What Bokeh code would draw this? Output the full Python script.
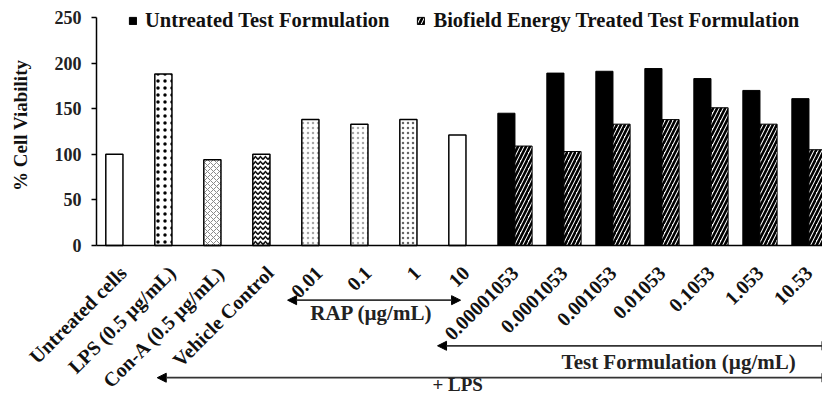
import math
from bokeh.plotting import figure
from bokeh.models import (ColumnDataSource, Range1d, FixedTicker, Legend, LegendItem,
                          Arrow, NormalHead, Label)
from bokeh.embed import file_html
from bokeh.resources import INLINE

# ---------------- data ----------------
categories = ["Untreated cells", "LPS (0.5 µg/mL)", "Con-A (0.5 µg/mL)", "Vehicle Control",
              "0.01", "0.1", "1", "10",
              "0.00001053", "0.0001053", "0.001053", "0.01053", "0.1053", "1.053", "10.53"]
control_values = [100, 188, 94, 100, 138, 133, 138, 121]
untreated_tf = [145, 189, 191, 194, 183, 170, 161]
treated_tf = [109, 103, 133, 138, 151, 133, 105]
y_ticks = [0, 50, 100, 150, 200, 250]
y_title = "% Cell Viability"
legend_labels = ["Untreated Test Formulation", "Biofield Energy Treated Test Formulation"]
group_labels = ["RAP (µg/mL)", "Test Formulation (µg/mL)", "+ LPS"]

FONT = "Liberation Serif"
n_ctrl = len(control_values)
ctrl_x = list(range(n_ctrl))
tf_x = list(range(n_ctrl, len(categories)))

BW = 0.35
OFF = 0.175
X0 = -0.54          # where the y axis sits (data x)
Y_MAX = y_ticks[-1]

# per-bar styles of the control bars
ctrl_patterns = [" ", ".", "x", "v", ".", ".", ".", " "]
ctrl_hcolors = ["black", "black", "#8a8a8a", "#111111", "#a8a8a8", "#a8a8a8", "#666666", "black"]
ctrl_hscale = [6, 7, 6, 5, 5, 5, 5, 6]
ctrl_hweight = [1, 3, 1, 1.6, 1, 1, 1.2, 1]

ctrl_src = ColumnDataSource(dict(x=[v - OFF for v in ctrl_x], top=control_values,
                                 hp=ctrl_patterns, hc=ctrl_hcolors, hs=ctrl_hscale, hw=ctrl_hweight))
un_src = ColumnDataSource(dict(x=[v - OFF for v in tf_x], top=untreated_tf))
tr_src = ColumnDataSource(dict(x=[v + OFF for v in tf_x], top=treated_tf))

p = figure(width=822, height=399, output_backend="svg", toolbar_location=None,
           x_range=Range1d(-2.499, 14.276), y_range=Range1d(-168.9, 268.6),
           min_border_left=0, min_border_right=0, min_border_top=0, min_border_bottom=0)
p.outline_line_color = None
p.grid.visible = False
p.background_fill_color = "white"

p.vbar(x="x", top="top", width=BW, bottom=0, source=ctrl_src, fill_color="white",
       line_color="black", line_width=1.5, hatch_pattern="hp", hatch_color="hc",
       hatch_scale="hs", hatch_weight="hw")
r_un = p.vbar(x="x", top="top", width=BW, bottom=0, source=un_src, fill_color="black",
              line_color="black", line_width=1)
r_tr = p.vbar(x="x", top="top", width=BW, bottom=0, source=tr_src, fill_color="white",
              line_color="black", line_width=1, hatch_pattern="/", hatch_color="black",
              hatch_scale=8, hatch_weight=2.6)

# x axis at y = 0
xa = p.xaxis[0]
xa.fixed_location = 0
xa.bounds = (X0, 14.276)
xa.ticker = FixedTicker(ticks=list(range(len(categories))))
xa.major_label_overrides = {i: c for i, c in enumerate(categories)}
xa.major_label_orientation = math.pi / 4
xa.major_tick_out = 0
xa.major_tick_in = 0
xa.minor_tick_out = 0
xa.minor_tick_in = 0
xa.axis_line_width = 1.5
xa.axis_line_color = "black"
xa.major_label_standoff = 24
xa.major_label_text_font = FONT
xa.major_label_text_font_style = "bold"
xa.major_label_text_font_size = "20px"
xa.major_label_text_color = "#111111"

# y axis at x = X0
ya = p.yaxis[0]
ya.fixed_location = X0
ya.bounds = (0, Y_MAX)
ya.ticker = FixedTicker(ticks=y_ticks)
ya.major_tick_out = 5
ya.major_tick_in = 0
ya.minor_tick_out = 0
ya.minor_tick_in = 0
ya.axis_line_width = 1.5
ya.major_tick_line_width = 1.5
ya.major_label_standoff = 10
ya.major_label_text_font = FONT
ya.major_label_text_font_style = "bold"
ya.major_label_text_font_size = "18px"
ya.major_label_text_color = "#222222"

p.add_layout(Label(x=X0 - 1.55, y=Y_MAX * 0.527, text=y_title, angle=math.pi / 2,
                   text_align="center", text_baseline="middle",
                   text_font=FONT, text_font_style="bold", text_font_size="19px",
                   text_color="#111111"))

legend = Legend(items=[LegendItem(label=legend_labels[0], renderers=[r_un]),
                       LegendItem(label=legend_labels[1], renderers=[r_tr])],
                location=(128, 367), orientation="horizontal",
                padding=0, margin=0, spacing=27, label_standoff=8,
                glyph_width=9, glyph_height=9, border_line_color=None,
                background_fill_alpha=0,
                label_text_font=FONT, label_text_font_style="bold",
                label_text_font_size="20.5px", label_text_color="#111111")
p.add_layout(legend)

# group annotations
arrows = [(3.36, 6.89, -60), (6.42, 14.45, -110), (0.70, 14.45, -145)]
for xs, xe, yy in arrows:
    p.add_layout(Arrow(x_start=xs, y_start=yy, x_end=xe, y_end=yy,
                       line_color="#333333", line_width=1.8,
                       start=NormalHead(size=9, fill_color="black", line_color="black"),
                       end=NormalHead(size=9, fill_color="black", line_color="black")))

label_pos = [(5.07, -74, "21px"), (11.34, -128, "21px"), (6.83, -152, "19px")]
for txt, (lx, ly, fs) in zip(group_labels, label_pos):
    p.add_layout(Label(x=lx, y=ly, text=txt, text_align="center", text_baseline="middle",
                       text_font=FONT, text_font_style="bold", text_font_size=fs,
                       text_color="#222222"))

open("out.html", "w").write(file_html(p, INLINE))
